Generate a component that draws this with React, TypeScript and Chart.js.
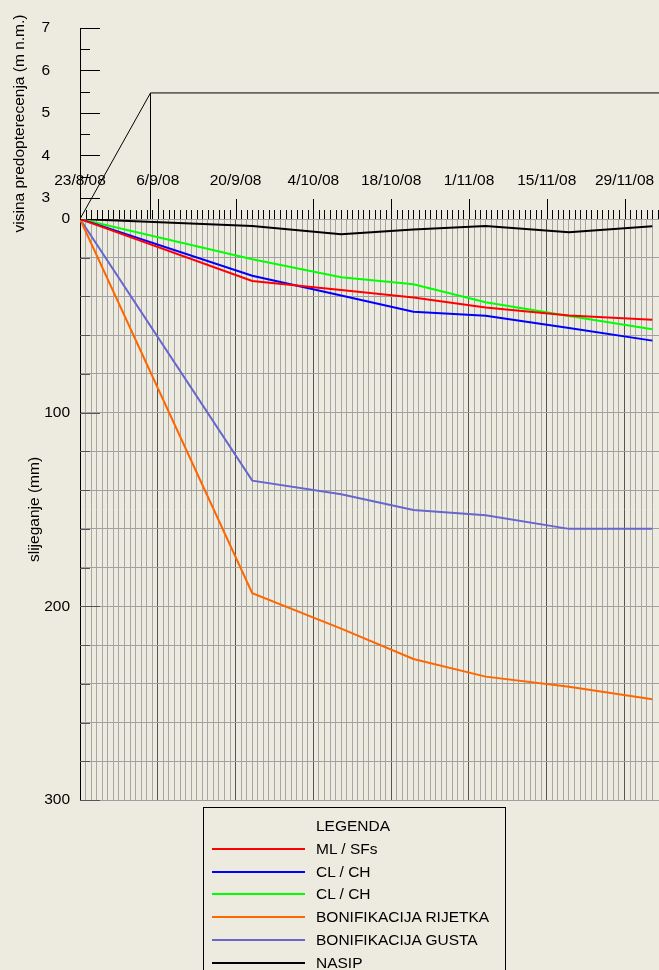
import React, { useEffect, useRef } from 'react';
import { Chart, registerables } from 'chart.js';

Chart.register(...registerables);

// ---------- data ----------
const X_TICK_LABELS = ['23/8/08', '6/9/08', '20/9/08', '4/10/08', '18/10/08', '1/11/08', '15/11/08', '29/11/08'];
const LABEL_STEP_DAYS = 14;
const X_MAX_DAYS = 104.2;

// measurement days counted from 23/8/08
const MEAS_DAYS = [0, 31, 47, 60, 73, 88, 103];
const ML_SFS = [0, 32.0, 36.7, 40.5, 45.7, 49.8, 52.0];
const CL_CH_1 = [0, 29.3, 39.5, 47.9, 49.9, 56.3, 62.8];
const CL_CH_2 = [0, 20.8, 30.1, 33.7, 43.0, 50.1, 56.9];
const BON_RIJETKA = [0, 193.2, 211.5, 227.2, 236.3, 241.5, 248.0];
const BON_GUSTA = [0, 135.1, 142.1, 150.2, 153.0, 160.0, 160.0];
const NASIP = [0, 3.6, 7.9, 5.4, 3.6, 6.9, 3.8];

const SERIES_NAMES = ['ML / SFs', 'CL / CH', 'CL / CH', 'BONIFIKACIJA RIJETKA', 'BONIFIKACIJA GUSTA', 'NASIP'];
const SERIES_VALUES = [ML_SFS, CL_CH_1, CL_CH_2, BON_RIJETKA, BON_GUSTA, NASIP];
const SERIES_COLORS = ['#ff0000', '#0000ff', '#00ff00', '#ff6600', '#6666cc', '#000000'];

// preload (embankment height) curve
const LOAD_DAYS = [0, 12.69, 110];
const LOAD_HEIGHT = [2.5, 5.47, 5.47];
const LOAD_DROP_DAYS = [12.69, 12.69];
const LOAD_DROP_HEIGHT = [5.47, 2.5];

const SETTLE_MAX = 300;
const LOAD_MIN = 2.5;
const LOAD_MAX = 7;

const BG = '#edebe0';
const FONT = "'Liberation Sans', Arial, sans-serif";
const W = 659;
const H = 970;

Chart.defaults.font.family = FONT;
Chart.defaults.font.size = 15.5;
Chart.defaults.color = '#000';

const bottomTicks = {
  id: 'bottomTicks',
  beforeDatasetsDraw(chart: any) {
    const { ctx, chartArea, scales } = chart;
    const xs = scales.x;
    const ys = scales.y;
    ctx.save();
    ctx.lineWidth = 1;
    ctx.strokeStyle = '#000';
    ctx.beginPath();
    for (let d = 0; d <= Math.floor(xs.max); d++) {
      const px = Math.round(xs.getPixelForValue(d)) + 0.5;
      const len = d % LABEL_STEP_DAYS === 0 ? 20 : 9;
      ctx.moveTo(px, chartArea.top);
      ctx.lineTo(px, chartArea.top - len);
    }
    ctx.stroke();
    ctx.strokeStyle = '#555';
    ctx.beginPath();
    for (let v = 0; v <= SETTLE_MAX; v += 20) {
      const py = Math.round(ys.getPixelForValue(v)) + 0.5;
      const len = v % 100 === 0 ? 20 : 10;
      ctx.moveTo(chartArea.left, py);
      ctx.lineTo(chartArea.left + len, py);
    }
    ctx.stroke();
    ctx.restore();
  },
};

const topTicks = {
  id: 'topTicks',
  beforeDatasetsDraw(chart: any) {
    const { ctx, chartArea, scales } = chart;
    const ys = scales.y;
    ctx.save();
    ctx.lineWidth = 1;
    ctx.strokeStyle = '#000';
    ctx.beginPath();
    for (let v = 3; v <= LOAD_MAX + 1e-9; v += 0.5) {
      const py = Math.round(ys.getPixelForValue(v)) + 0.5;
      const len = Number.isInteger(v) ? 20 : 10;
      ctx.moveTo(chartArea.left, py);
      ctx.lineTo(chartArea.left + len, py);
    }
    ctx.stroke();
    ctx.restore();
  },
};

export default function App() {
  const bottomRef = useRef<HTMLCanvasElement>(null);
  const topRef = useRef<HTMLCanvasElement>(null);

  useEffect(() => {
    const bottom = new Chart(bottomRef.current as HTMLCanvasElement, {
      type: 'line',
      data: {
        datasets: SERIES_VALUES.map((vals, i) => ({
          label: SERIES_NAMES[i],
          data: MEAS_DAYS.map((d, j) => ({ x: d, y: vals[j] })),
          borderColor: SERIES_COLORS[i],
          backgroundColor: SERIES_COLORS[i],
          borderWidth: 2,
          pointRadius: 0,
          tension: 0,
          fill: false,
        })),
      },
      options: {
        responsive: false,
        animation: false,
        layout: { padding: { top: 0, left: 0, right: 0, bottom: H - 800 } },
        plugins: { legend: { display: false }, tooltip: { enabled: false } },
        scales: {
          x: {
            type: 'linear',
            position: 'top',
            min: 0,
            max: X_MAX_DAYS,
            afterFit: (s: any) => {
              s.height = 219;
              s.paddingLeft = 0;
              s.paddingRight = 0;
            },
            border: { display: false },
            grid: {
              drawTicks: false,
              lineWidth: 1,
              color: (c: any) =>
                c.tick && Math.abs(c.tick.value % LABEL_STEP_DAYS) < 1e-9 ? '#555' : '#a6a6a6',
            },
            ticks: {
              stepSize: 1,
              autoSkip: false,
              maxRotation: 0,
              padding: 28.5,
              callback: (v: any) =>
                Number(v) % LABEL_STEP_DAYS === 0 ? X_TICK_LABELS[Number(v) / LABEL_STEP_DAYS] ?? '' : '',
            },
          },
          y: {
            type: 'linear',
            min: 0,
            max: SETTLE_MAX,
            reverse: true,
            afterFit: (s: any) => {
              s.width = 80;
              s.paddingTop = 0;
              s.paddingBottom = 0;
            },
            border: { display: true, color: '#000', width: 1 },
            grid: { drawTicks: false, color: '#a0a0a0', lineWidth: 1 },
            ticks: {
              stepSize: 20,
              autoSkip: false,
              padding: 10,
              callback: (v: any) => (Number(v) % 100 === 0 ? String(v) : ''),
            },
            title: {
              display: true,
              text: 'slijeganje (mm)',
              padding: { top: 25.5, bottom: 0 },
            },
          },
        },
      },
      plugins: [bottomTicks],
    } as any);

    const top = new Chart(topRef.current as HTMLCanvasElement, {
      type: 'line',
      data: {
        datasets: [
          {
            label: 'visina',
            data: LOAD_DAYS.map((d, i) => ({ x: d, y: LOAD_HEIGHT[i] })),
            borderColor: '#000',
            borderWidth: 1,
            pointRadius: 0,
            tension: 0,
          },
          {
            label: 'visina-drop',
            data: LOAD_DROP_DAYS.map((d, i) => ({ x: d, y: LOAD_DROP_HEIGHT[i] })),
            borderColor: '#000',
            borderWidth: 1,
            pointRadius: 0,
            tension: 0,
          },
        ],
      },
      options: {
        responsive: false,
        animation: false,
        layout: { padding: { top: 28, left: 0, right: 0, bottom: H - 219 } },
        plugins: { legend: { display: false }, tooltip: { enabled: false } },
        scales: {
          x: {
            type: 'linear',
            display: false,
            min: 0,
            max: X_MAX_DAYS,
            afterFit: (s: any) => {
              s.paddingLeft = 0;
              s.paddingRight = 0;
            },
          },
          y: {
            type: 'linear',
            min: LOAD_MIN,
            max: LOAD_MAX,
            afterFit: (s: any) => {
              s.width = 80;
              s.paddingTop = 0;
              s.paddingBottom = 0;
            },
            border: { display: true, color: '#000', width: 1 },
            grid: { display: false, drawTicks: false },
            ticks: {
              stepSize: 0.5,
              autoSkip: false,
              padding: 30,
              callback: (v: any) => (Number.isInteger(Number(v)) && Number(v) >= 3 ? String(v) : ''),
            },
            title: {
              display: true,
              text: 'visina predopterecenja (m n.m.)',
              padding: { top: 10.5, bottom: 0 },
            },
          },
        },
      },
      plugins: [topTicks],
    } as any);

    return () => {
      bottom.destroy();
      top.destroy();
    };
  }, []);

  const legendRowH = 22.7;
  const legendFirstCenter = 18.3;

  return (
    <div
      style={{
        position: 'fixed',
        left: 0,
        top: 0,
        width: W,
        height: H,
        background: BG,
        overflow: 'hidden',
        fontFamily: FONT,
      }}
    >
      <canvas ref={bottomRef} width={W} height={H} style={{ position: 'absolute', left: 0, top: 0 }} />
      <canvas
        ref={topRef}
        width={W}
        height={H}
        style={{ position: 'absolute', left: 0, top: 0, pointerEvents: 'none' }}
      />
      <div
        style={{
          position: 'absolute',
          left: 203,
          top: 807,
          width: 303,
          height: 190,
          border: '1px solid #000',
          boxSizing: 'border-box',
          fontSize: 15.5,
          color: '#000',
        }}
      >
        <div
          style={{
            position: 'absolute',
            left: 112,
            top: legendFirstCenter - 11,
            height: 22,
            lineHeight: '22px',
            whiteSpace: 'nowrap',
          }}
        >
          LEGENDA
        </div>
        {SERIES_NAMES.map((name, i) => {
          const c = legendFirstCenter + legendRowH * (i + 1);
          return (
            <React.Fragment key={i}>
              <div
                style={{
                  position: 'absolute',
                  left: 8,
                  top: c - 1,
                  width: 93,
                  height: 2,
                  background: SERIES_COLORS[i],
                }}
              />
              <div
                style={{
                  position: 'absolute',
                  left: 112,
                  top: c - 11,
                  height: 22,
                  lineHeight: '22px',
                  whiteSpace: 'nowrap',
                }}
              >
                {name}
              </div>
            </React.Fragment>
          );
        })}
      </div>
    </div>
  );
}
